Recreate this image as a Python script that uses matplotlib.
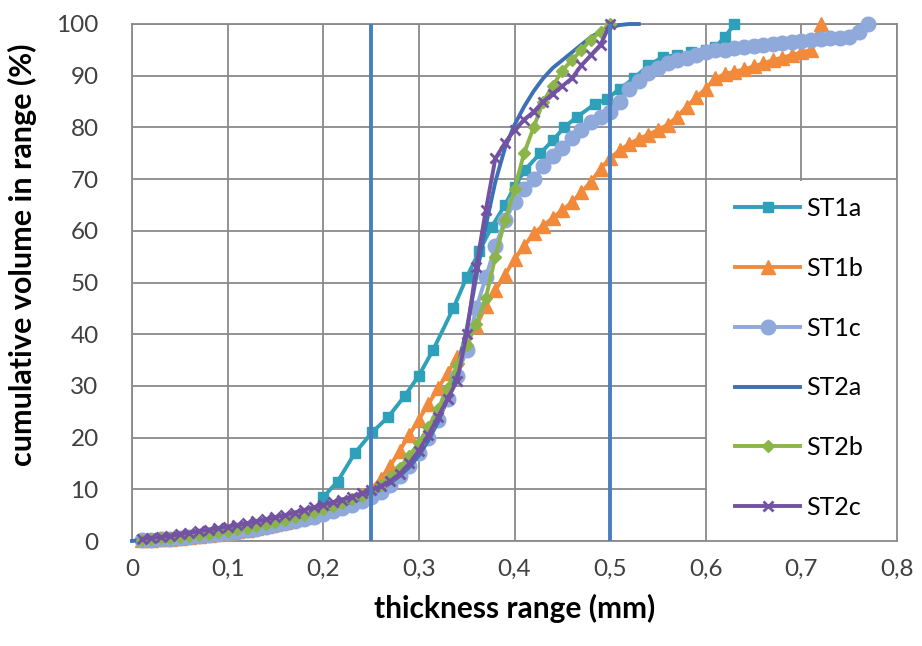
import matplotlib
matplotlib.use("Agg")
import matplotlib.pyplot as plt
from matplotlib.patches import Rectangle
from matplotlib.ticker import FuncFormatter, MultipleLocator

# cumulative volume (%) vs thickness (mm)
st1a_x = [0.01, 0.03, 0.05, 0.07, 0.09, 0.11, 0.13, 0.15, 0.17, 0.19,
          0.20, 0.215, 0.233, 0.251, 0.268, 0.285, 0.30, 0.315, 0.336, 0.35,
          0.363, 0.376, 0.39, 0.40, 0.411, 0.427, 0.44, 0.452, 0.465, 0.484,
          0.497, 0.51, 0.525, 0.54, 0.555, 0.57, 0.585, 0.60, 0.61, 0.62, 0.63]
st1a_y = [0.1, 0.3, 0.5, 0.8, 1.2, 1.7, 2.3, 3.0, 3.9, 5.0,
          8.5, 11.5, 17, 21, 24, 28, 32, 37, 45, 51,
          56, 60.7, 65, 68.5, 71.8, 75, 77.5, 80, 82, 84.5,
          85.5, 87.5, 89.5, 92, 93.6, 94, 94.5, 95, 95.5, 97.5, 100]

st1b_x = [round(0.01 * i, 2) for i in range(1, 73)]
st1b_y = [0.1, 0.2, 0.3, 0.4, 0.5, 0.7, 0.9, 1.1, 1.3, 1.6,
          1.9, 2.2, 2.5, 2.9, 3.3, 3.7, 4.2, 4.7, 5.3, 5.9,
          6.5, 7.2, 8.0, 8.9, 10, 12, 14.5, 17.5, 20.5, 23.5,
          26.5, 29.5, 32.5, 35.5, 38.5, 41.5, 45.5, 48.5, 51.5, 54.5,
          57, 59.5, 61, 62.5, 64, 65.5, 67.5, 69.5, 72, 74,
          75.6, 76.8, 77.8, 78.6, 79.5, 80.5, 82, 84, 85.8, 87.5,
          89.5, 90.3, 90.8, 91.2, 91.8, 92.4, 93, 93.5, 94, 94.5,
          95, 100]

st1c_x = [round(0.01 * i, 2) for i in range(1, 78)]
st1c_y = [0.1, 0.2, 0.3, 0.4, 0.5, 0.7, 0.9, 1.1, 1.3, 1.5,
          1.8, 2.1, 2.4, 2.7, 3.0, 3.4, 3.8, 4.2, 4.7, 5.2,
          5.8, 6.4, 7.0, 7.7, 8.5, 9.5, 10.8, 12.5, 14.5, 17,
          20, 23.5, 27.5, 32, 37, 45, 51, 57, 62, 65.5,
          68, 70, 72.5, 74.5, 76, 78, 79.5, 81, 82, 83,
          85, 87.5, 89, 90.5, 91.5, 92.5, 93, 93.5, 94, 94.5,
          95, 95, 95.3, 95.5, 95.7, 96, 96.2, 96.4, 96.6, 96.8,
          97, 97.1, 97.2, 97.3, 97.5, 98.5, 100]

st2a_x = [round(0.01 * i, 2) for i in range(0, 54)]
st2a_y = [0.0, 0.2, 0.4, 0.6, 0.8, 1.0, 1.2, 1.4, 1.6, 1.8,
          2.0, 2.3, 2.6, 2.9, 3.2, 3.6, 4.0, 4.4, 4.9, 5.4,
          5.9, 6.4, 7.0, 7.6, 8.2, 9.0, 10, 11.2, 12.6, 14.3,
          16.5, 19.5, 23, 27.5, 33, 41, 51, 61, 69.5, 76,
          80.5, 84, 87, 89.5, 91.5, 93, 94.5, 96, 97.5, 98.5,
          99.3, 99.8, 100, 100]

st2b_x = [round(0.01 * i, 2) for i in range(1, 51)]
st2b_y = [0.2, 0.3, 0.5, 0.6, 0.8, 1.0, 1.2, 1.4, 1.7, 2.0,
          2.3, 2.6, 2.9, 3.3, 3.7, 4.1, 4.6, 5.1, 5.6, 6.2,
          6.8, 7.4, 8.1, 8.8, 9.6, 10.8, 12.3, 14.2, 16.5, 19,
          22, 25.5, 29.5, 34, 38, 42, 47, 55, 62, 68,
          75, 80, 85, 88, 91, 93, 95, 97, 98.5, 100]

st2c_x = [round(0.01 * i, 2) for i in range(1, 51)]
st2c_y = [0.4, 0.6, 0.8, 1.0, 1.3, 1.6, 1.9, 2.2, 2.5, 2.8,
          3.1, 3.4, 3.8, 4.2, 4.6, 5.0, 5.5, 6.0, 6.5, 7.0,
          7.5, 8.0, 8.6, 9.2, 9.8, 10.6, 11.6, 13, 15, 17.5,
          20.5, 24, 27.5, 31, 40, 53, 64, 74, 77, 79.5,
          81.5, 83, 85, 86.5, 88, 89.5, 92, 94, 96, 100]

limits = [0.25, 0.5]

series = [
    ("ST1a", st1a_x, st1a_y, "#2FA0BA", "s", 6.5),
    ("ST1b", st1b_x, st1b_y, "#F28A3C", "^", 9.5),
    ("ST1c", st1c_x, st1c_y, "#8EA9DA", "o", 10.5),
    ("ST2a", st2a_x, st2a_y, "#3E70B6", None, 0),
    ("ST2b", st2b_x, st2b_y, "#8BB449", "D", 6.5),
    ("ST2c", st2c_x, st2c_y, "#7352A3", "x", 7.5),
]

plt.rcParams["font.family"] = ["Lato", "DejaVu Sans"]

fig = plt.figure(figsize=(9.22, 6.46), dpi=100)
ax = fig.add_axes([132 / 922, 1 - 541 / 646, (897 - 132) / 922, (541 - 24) / 646])

for name, xs, ys, col, mk, ms in series:
    kw = dict(color=col, lw=2.8, label=name, clip_on=False, zorder=3)
    if mk:
        kw.update(marker=mk, markersize=ms, markeredgecolor=col, markerfacecolor=col,
                  markeredgewidth=2 if mk == "x" else 1)
    ax.plot(xs, ys, **kw)

for v in limits:
    ax.axvline(v, color="#4A7EC0", lw=2.8, zorder=4)

ax.set_xlim(0, 0.8)
ax.set_ylim(0, 100)
ax.xaxis.set_major_locator(MultipleLocator(0.1))
ax.yaxis.set_major_locator(MultipleLocator(10))
ax.xaxis.set_major_formatter(FuncFormatter(lambda v, p: "0" if abs(v) < 1e-9 else f"{v:.1f}".replace(".", ",")))
ax.yaxis.set_major_formatter(FuncFormatter(lambda v, p: f"{v:.0f}"))
ax.tick_params(length=0, labelsize=17.5, colors="#404040")
ax.tick_params(axis="x", pad=13)
ax.tick_params(axis="y", pad=24)
ax.set_axisbelow(True)
ax.grid(True, color="#8A8A8A", lw=1.3)
for s in ax.spines.values():
    s.set_color("#8A8A8A")
    s.set_linewidth(1.3)

ax.set_xlabel("thickness range (mm)", fontsize=21.5, fontweight="bold", labelpad=10)
ax.set_ylabel("cumulative volume in range (%)", fontsize=22, fontweight="bold")
ax.yaxis.set_label_coords(-0.124, 0.553)

# white box behind the legend hides the grid there
ax.add_patch(Rectangle((0.601, 0), 0.2, 69.6, facecolor="white", edgecolor="none", zorder=1))
ax.legend(loc="center left", bbox_to_anchor=(735 / 922, 1 - 358 / 646), bbox_transform=fig.transFigure,
          frameon=False, fontsize=18, handlelength=2.6, handletextpad=0.25,
          labelspacing=1.47, borderpad=0, borderaxespad=0)

fig.savefig("out.png", dpi=100)
